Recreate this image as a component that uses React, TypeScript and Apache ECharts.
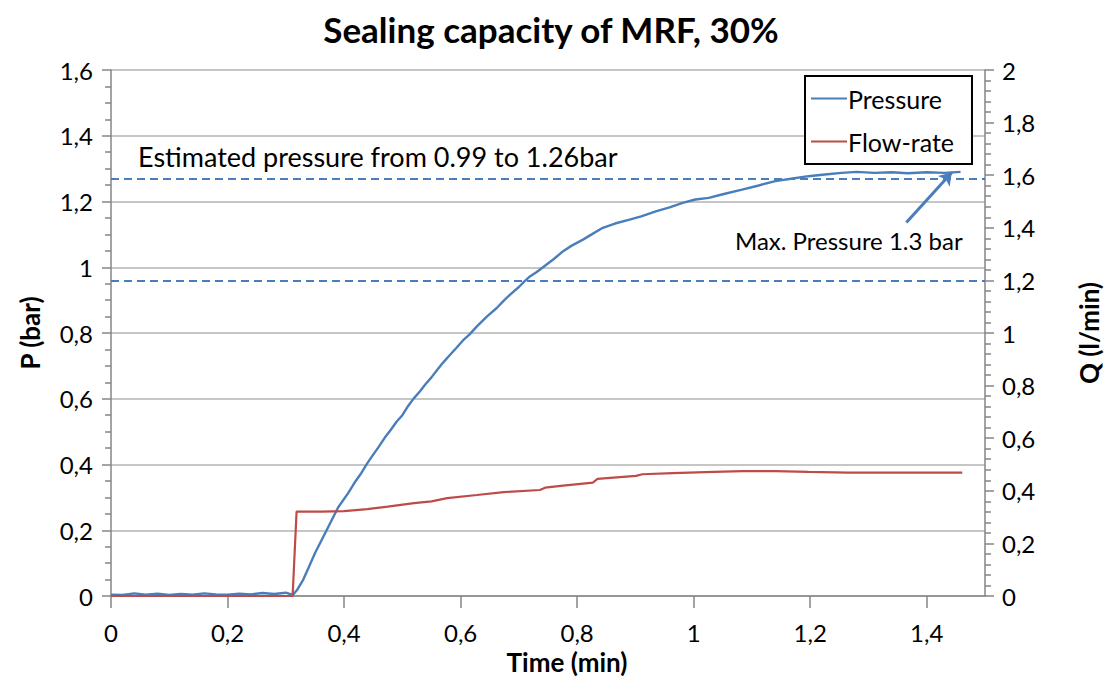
import React, { useEffect, useRef } from "react";
import * as echarts from "echarts";

const titleText = "Sealing capacity of MRF, 30%";
const seriesNames = ["Pressure", "Flow-rate"];

// [time (min), pressure (bar)]
const pressureData: number[][] = [
  [0, 0.004], [0.02, 0.003], [0.04, 0.008], [0.06, 0.004], [0.08, 0.007], [0.1, 0.003],
  [0.12, 0.006], [0.14, 0.004], [0.16, 0.008], [0.18, 0.005], [0.2, 0.004], [0.22, 0.007],
  [0.24, 0.005], [0.26, 0.009], [0.28, 0.006], [0.3, 0.01], [0.312, 0.003],
  [0.32, 0.02], [0.33, 0.05], [0.34, 0.09], [0.35, 0.13], [0.36, 0.165], [0.37, 0.2],
  [0.38, 0.235], [0.39, 0.27], [0.407, 0.313], [0.42, 0.35], [0.43, 0.375], [0.44, 0.404],
  [0.45, 0.43], [0.46, 0.455], [0.47, 0.482], [0.48, 0.505], [0.49, 0.53], [0.5, 0.55],
  [0.51, 0.578], [0.52, 0.602], [0.53, 0.622], [0.54, 0.645], [0.55, 0.665], [0.56, 0.688],
  [0.57, 0.71], [0.58, 0.73], [0.593, 0.755], [0.6055, 0.78], [0.615, 0.795], [0.628, 0.82],
  [0.645, 0.85], [0.662, 0.876], [0.675, 0.9], [0.685, 0.917], [0.7, 0.94], [0.71, 0.958],
  [0.719, 0.972], [0.73, 0.985], [0.742, 1.001], [0.76, 1.025], [0.776, 1.049], [0.79, 1.065],
  [0.81, 1.084], [0.825, 1.1], [0.844, 1.12], [0.865, 1.133], [0.89, 1.145], [0.91, 1.155],
  [0.935, 1.17], [0.96, 1.183], [0.981, 1.196], [1.003, 1.206], [1.026, 1.211], [1.05, 1.222],
  [1.083, 1.236], [1.11, 1.248], [1.14, 1.262], [1.17, 1.27], [1.197, 1.277], [1.225, 1.282],
  [1.254, 1.287], [1.28, 1.29], [1.31, 1.287], [1.34, 1.289], [1.367, 1.286], [1.4, 1.289],
  [1.43, 1.287], [1.458, 1.29],
];

// [time (min), flow-rate (l/min)]
const flowData: number[][] = [
  [0, 0], [0.3117, 0], [0.3185, 0.321], [0.36, 0.321], [0.4, 0.323], [0.44, 0.33],
  [0.475, 0.34], [0.52, 0.353], [0.55, 0.36], [0.577, 0.372], [0.628, 0.384], [0.674, 0.395],
  [0.736, 0.403], [0.745, 0.412], [0.776, 0.42], [0.827, 0.431], [0.835, 0.445], [0.901, 0.457],
  [0.912, 0.463], [0.964, 0.467], [1.02, 0.471], [1.083, 0.475], [1.14, 0.475], [1.197, 0.472],
  [1.265, 0.469], [1.367, 0.469], [1.461, 0.469],
];

const estimatedBand = [0.96, 1.27];
const maxArrow = [[1.365, 1.136], [1.443, 1.288]];
const estimatedLabel = "Estimated pressure from 0.99 to 1.26bar";
const maxLabel = "Max. Pressure 1.3 bar";

const FONT = "Lato, 'Open Sans', sans-serif";
const BLUE = "#4a7ebb";
const RED = "#be4b48";

const fmt = (v: number) => String(Math.round(v * 10) / 10).replace(".", ",");

export default function App() {
  const ref = useRef<HTMLDivElement>(null);
  useEffect(() => {
    if (!ref.current) return;
    const chart = echarts.init(ref.current, null, { renderer: "svg" });
    const axisLineStyle = { color: "#868686", width: 1.5 };
    const nameStyle = { fontFamily: FONT, fontWeight: "bold", fontSize: 26, color: "#000" };
    chart.setOption({
      animation: false,
      backgroundColor: "#ffffff",
      textStyle: { fontFamily: FONT },
      title: {
        text: titleText,
        left: 546,
        top: 6,
        textAlign: "center",
        textStyle: { fontFamily: FONT, fontWeight: "bold", fontSize: 35, color: "#000" },
      },
      grid: { left: 111, right: 122, top: 70, bottom: 90 },
      legend: {
        orient: "vertical",
        left: 805,
        top: 76,
        data: seriesNames,
        icon: "rect",
        itemWidth: 36,
        itemHeight: 2,
        itemGap: 18,
        padding: [10, 18, 10, 6],
        borderColor: "#000",
        borderWidth: 2,
        backgroundColor: "#fff",
        textStyle: { fontFamily: FONT, fontSize: 25, color: "#000", padding: [0, 0, 0, -4] },
      },
      xAxis: {
        type: "value",
        min: 0,
        max: 1.5,
        interval: 0.2,
        name: "Time (min)",
        nameLocation: "middle",
        nameGap: 53,
        nameTextStyle: { ...nameStyle, padding: [0, 0, 0, 38] },
        axisLine: { show: true, lineStyle: axisLineStyle },
        axisTick: { show: true, length: 12, lineStyle: axisLineStyle },
        axisLabel: {
          margin: 24,
          fontSize: 24,
          color: "#000",
          fontFamily: FONT,
          showMaxLabel: false,
          formatter: fmt,
        },
        splitLine: { show: false },
      },
      yAxis: [
        {
          type: "value",
          min: 0,
          max: 1.6,
          interval: 0.2,
          name: "P (bar)",
          nameLocation: "middle",
          nameGap: 68,
          nameTextStyle: nameStyle,
          axisLine: { show: true, lineStyle: axisLineStyle },
          axisTick: { show: true, length: 9, lineStyle: axisLineStyle },
          minorTick: { show: true, splitNumber: 4, length: 6, lineStyle: axisLineStyle },
          axisLabel: { margin: 18, fontSize: 24, color: "#000", fontFamily: FONT, formatter: fmt },
          splitLine: { show: true, lineStyle: { color: "#b3b3b3", width: 1.5 } },
        },
        {
          type: "value",
          min: 0,
          max: 2,
          interval: 0.2,
          position: "right",
          name: "Q (l/min)",
          nameLocation: "middle",
          nameGap: 91,
          nameTextStyle: nameStyle,
          axisLine: { show: true, lineStyle: axisLineStyle },
          axisTick: { show: true, length: 9, lineStyle: axisLineStyle },
          minorTick: { show: true, splitNumber: 5, length: 6, lineStyle: axisLineStyle },
          axisLabel: { margin: 17, fontSize: 24, color: "#000", fontFamily: FONT, formatter: fmt },
          splitLine: { show: false },
        },
      ],
      graphic: [
        {
          type: "text",
          left: 138,
          top: 143,
          style: { text: estimatedLabel, fontFamily: FONT, fontSize: 27, fill: "#000" },
        },
        {
          type: "text",
          left: 735,
          top: 228,
          style: { text: maxLabel, fontFamily: FONT, fontSize: 24, fill: "#000" },
        },
      ],
      series: [
        {
          name: seriesNames[0],
          type: "line",
          yAxisIndex: 0,
          data: pressureData,
          showSymbol: false,
          symbol: "none",
          lineStyle: { color: BLUE, width: 2.4 },
          itemStyle: { color: BLUE },
          markLine: {
            silent: true,
            symbol: ["none", "none"],
            label: { show: false },
            lineStyle: { color: BLUE, width: 2, type: [8, 5] },
            data: [
              { yAxis: estimatedBand[0] },
              { yAxis: estimatedBand[1] },
              [
                { coord: maxArrow[0], symbol: "none", lineStyle: { type: "solid", width: 3, color: BLUE } },
                { coord: maxArrow[1], symbol: "arrow", symbolSize: 12 },
              ],
            ],
          },
        },
        {
          name: seriesNames[1],
          type: "line",
          yAxisIndex: 1,
          data: flowData,
          showSymbol: false,
          symbol: "none",
          lineStyle: { color: RED, width: 2.2 },
          itemStyle: { color: RED },
        },
      ],
    });
    return () => chart.dispose();
  }, []);
  return (
    <div
      ref={ref}
      style={{ position: "fixed", left: 0, top: 0, width: 1110, height: 686, background: "#fff" }}
    />
  );
}
